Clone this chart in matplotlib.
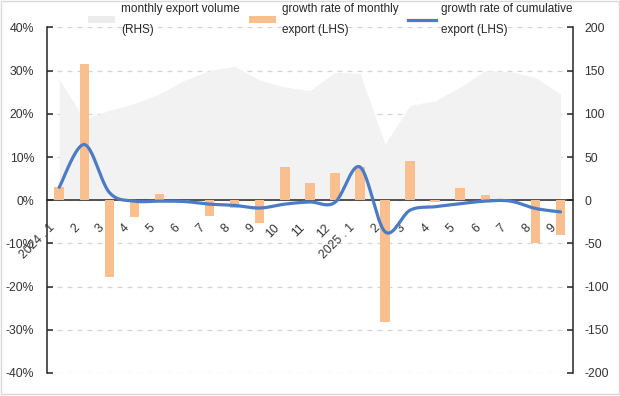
import numpy as np
import matplotlib
matplotlib.use("Agg")
import matplotlib.pyplot as plt
from matplotlib.patches import Patch, Rectangle
from matplotlib.lines import Line2D
from matplotlib.ticker import FuncFormatter, MultipleLocator

plt.rcParams["font.family"] = ["Liberation Sans", "DejaVu Sans"]
plt.rcParams["axes.unicode_minus"] = False

# datos
meses = ["2024 . 1", "2", "3", "4", "5", "6", "7", "8", "9", "10", "11", "12",
         "2025 . 1", "2", "3", "4", "5", "6", "7", "8", "9"]
volumen = [140, 94, 104, 112, 123, 139, 150, 155, 139, 131, 127, 148,
           147, 65, 110, 115, 131, 150, 149, 142, 123]
crec_mensual = [3.1, 31.6, -17.7, -3.9, 1.5, -0.4, -3.7, -1.9, -5.2, 7.8, 4.1, 6.4,
                7.7, -28.3, 9.2, -0.4, 2.8, 1.2, 0.0, -10.0, -8.1]
crec_acumulado = [3.0, 12.9, 1.8, -0.2, -0.2, -0.3, -0.9, -1.2, -1.8, -0.9, -0.4, -0.5,
                  7.7, -7.3, -2.3, -1.5, -0.8, -0.2, -0.2, -1.9, -2.7]

etiquetas = ["monthly export volume\n(RHS)", "growth rate of monthly\nexport (LHS)",
             "growth rate of cumulative\nexport (LHS)"]

GRIS_AREA = "#f2f2f2"
NARANJA = "#f9bf8f"
AZUL = "#4a7bc4"
TEXTO = "#333333"


def suavizar(xs, ys, n=24):
    # curva tipo excel (catmull-rom)
    xs = np.asarray(xs, float)
    ys = np.asarray(ys, float)
    px = np.concatenate([[xs[0]], xs, [xs[-1]]])
    py = np.concatenate([[ys[0]], ys, [ys[-1]]])
    t = np.linspace(0, 1, n)
    out_x, out_y = [], []
    for i in range(1, len(px) - 2):
        for p, out in ((px, out_x), (py, out_y)):
            p0, p1, p2, p3 = p[i - 1], p[i], p[i + 1], p[i + 2]
            out.extend(0.5 * (2 * p1 + (-p0 + p2) * t + (2 * p0 - 5 * p1 + 4 * p2 - p3) * t ** 2
                              + (-p0 + 3 * p1 - 3 * p2 + p3) * t ** 3))
    return np.array(out_x), np.array(out_y)


x = np.arange(len(meses))

fig = plt.figure(figsize=(6.2, 3.96), dpi=100)
ax = fig.add_axes([0.0753, 0.0581, 0.8489, 0.8725])
ax2 = ax.twinx()

# eje derecho: area del volumen, con la grilla debajo
ax2.fill_between(x, 0, volumen, color=GRIS_AREA, linewidth=0, zorder=2)
ax2.set_ylim(-200, 200)
ax2.yaxis.set_major_locator(MultipleLocator(50))
ax2.grid(axis="y", color="#d4d4d4", linestyle=(0, (4, 4)), linewidth=0.9, zorder=1)
ax2.set_axisbelow(True)

# eje izquierdo arriba del derecho
ax.set_zorder(ax2.get_zorder() + 1)
ax.patch.set_visible(False)

ax.bar(x, crec_mensual, width=0.38, color=NARANJA, zorder=3)
sx, sy = suavizar(x, crec_acumulado)
ax.plot(sx, sy, color=AZUL, linewidth=2.3, solid_capstyle="round", zorder=4)

ax.set_xlim(-0.5, len(meses) - 0.5)
ax.set_ylim(-40, 40)
ax2.set_xlim(-0.5, len(meses) - 0.5)
ax.yaxis.set_major_locator(MultipleLocator(10))
ax.yaxis.set_major_formatter(FuncFormatter(lambda v, p: f"{v:.0f}%"))
ax2.yaxis.set_major_formatter(FuncFormatter(lambda v, p: f"{v:.0f}"))

for a in (ax, ax2):
    a.spines["top"].set_visible(False)
ax2.spines["bottom"].set_visible(False)
ax2.spines["left"].set_visible(False)
ax.spines["right"].set_visible(False)
ax.spines["bottom"].set_position(("data", 0))
for s in (ax.spines["left"], ax.spines["bottom"], ax2.spines["right"]):
    s.set_color("#262626")
    s.set_linewidth(1.1)

ax.tick_params(axis="y", direction="in", length=4, width=1.1, color="#262626",
               labelsize=8.8, labelcolor=TEXTO, pad=9)
ax2.tick_params(axis="y", direction="in", length=4, width=1.1, color="#262626",
                labelsize=8.8, labelcolor=TEXTO, pad=8)

# ticks del eje x en los limites de cada categoria
ax.set_xticks(np.arange(len(meses) - 1) + 0.5)
ax.set_xticklabels([])
ax.tick_params(axis="x", direction="in", length=4, width=1.1, color="#262626")
ax2.set_xticks([])

for i, m in enumerate(meses):
    ax.annotate(m, xy=(i, 0), xytext=(-4.8, -18.5), textcoords="offset points",
                rotation=45, ha="right", va="center", rotation_mode="anchor",
                fontsize=8.8, color=TEXTO)

handles = [Patch(facecolor="#ececec", edgecolor="none"),
           Patch(facecolor=NARANJA, edgecolor="none"),
           Line2D([0], [0], color=AZUL, linewidth=2.3)]
leg = fig.legend(handles, etiquetas, loc="upper left", bbox_to_anchor=(88 / 620, 1 - 3 / 396),
                 ncol=3, frameon=False, fontsize=8.5, handlelength=2.3, handleheight=0.55,
                 handletextpad=0.5, columnspacing=0.8, borderpad=0, borderaxespad=0)
for t in leg.get_texts():
    t.set_linespacing(2.0)
    t.set_color("#262626")

fig.patches.append(Rectangle((0.002, 0.004), 0.996, 0.993, transform=fig.transFigure,
                             fill=False, edgecolor="#d9d9d9", linewidth=1))

fig.savefig("out.png", dpi=100)
